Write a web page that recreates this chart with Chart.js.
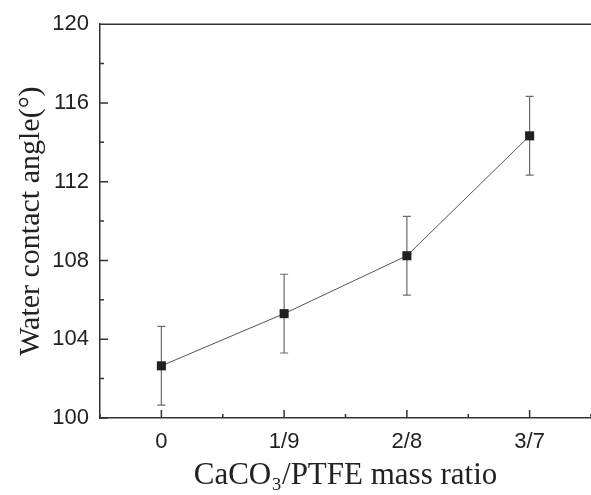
<!DOCTYPE html>
<html>
<head>
<meta charset="utf-8">
<script src="https://cdn.jsdelivr.net/npm/chart.js@4.4.1/dist/chart.umd.min.js"></script>
<style>
    html, body { margin: 0; padding: 0; background: #fff; overflow: hidden; }
    #wrap { width: 591px; height: 495px; }
</style>
</head>
<body>
<div id="wrap"><canvas id="grafico"></canvas></div>
<script>
const categorias = ["0", "1/9", "2/8", "3/7"];
const angulo = [102.65, 105.3, 108.24, 114.33];
const error = [2.0, 2.0, 2.0, 2.0];
const yTicks = [100, 104, 108, 112, 116, 120];

// error bars and inward ticks (Origin style)
const extras = {
    id: "extras",
    beforeDatasetsDraw(chart) {
        const ctx = chart.ctx;
        const x = chart.scales.x;
        const y = chart.scales.y;
        ctx.save();
        ctx.strokeStyle = "#6b6b6b";
        ctx.lineWidth = 1.2;
        for (let i = 0; i < angulo.length; i++) {
            const px = x.getPixelForValue(i);
            const top = y.getPixelForValue(angulo[i] + error[i]);
            const bot = y.getPixelForValue(angulo[i] - error[i]);
            ctx.beginPath();
            ctx.moveTo(px, top);
            ctx.lineTo(px, bot);
            ctx.moveTo(px - 4, top);
            ctx.lineTo(px + 4, top);
            ctx.moveTo(px - 4, bot);
            ctx.lineTo(px + 4, bot);
            ctx.stroke();
        }
        ctx.restore();
    },
    afterDraw(chart) {
        const ctx = chart.ctx;
        const area = chart.chartArea;
        const x = chart.scales.x;
        const y = chart.scales.y;
        ctx.save();
        ctx.strokeStyle = "#333";
        ctx.lineWidth = 1.5;
        ctx.beginPath();
        // top frame line
        ctx.moveTo(area.left, area.top);
        ctx.lineTo(area.right, area.top);
        // y ticks
        for (let v = 100; v <= 120; v += 2) {
            const py = y.getPixelForValue(v);
            const len = (v % 4 === 0) ? 8 : 4;
            ctx.moveTo(area.left, py);
            ctx.lineTo(area.left + len, py);
        }
        // x ticks
        for (let v = -0.5; v <= 3.5; v += 0.5) {
            const px = x.getPixelForValue(v);
            const len = (Number.isInteger(v)) ? 8 : 4;
            ctx.moveTo(px, area.bottom);
            ctx.lineTo(px, area.bottom - len);
        }
        ctx.stroke();
        ctx.restore();
    }
};

const ctx = document.getElementById("grafico").getContext("2d");
const myChart = new Chart(ctx, {
    type: "line",
    data: {
        datasets: [{
            data: angulo.map((v, i) => ({ x: i, y: v })),
            borderColor: "#555",
            borderWidth: 1,
            backgroundColor: "#231f20",
            pointStyle: "rect",
            pointRadius: 6.4,
            pointBorderWidth: 0,
            pointBackgroundColor: "#231f20",
            tension: 0,
            clip: false,
        }],
    },
    options: {
        responsive: true,
        maintainAspectRatio: false,
        animation: false,
        layout: {
            autoPadding: false,
            padding: { top: 23, right: 0, left: 0, bottom: 0 },
        },
        plugins: {
            legend: { display: false },
            tooltip: { enabled: false },
        },
        scales: {
            x: {
                type: "linear",
                min: -0.5,
                max: 3.5,
                grid: { display: false, drawTicks: false },
                border: { display: true, color: "#333", width: 1.5 },
                afterBuildTicks: (scale) => {
                    scale.ticks = categorias.map((c, i) => ({ value: i }));
                },
                afterFit: (scale) => {
                    scale.height = 77;
                    scale.paddingRight = 0;
                    scale.paddingLeft = 0;
                },
                ticks: {
                    padding: 11,
                    color: "#222",
                    font: { family: "Liberation Sans", size: 22 },
                    callback: (v) => categorias[v],
                },
                title: {
                    display: true,
                    text: "CaCO\u2083/PTFE mass ratio",
                    color: "#222",
                    font: { family: "Liberation Serif", size: 31 },
                    padding: { top: 0, bottom: 1 },
                },
            },
            y: {
                min: 100,
                max: 120,
                grid: { display: false, drawTicks: false },
                border: { display: true, color: "#333", width: 1.5 },
                afterBuildTicks: (scale) => {
                    scale.ticks = yTicks.map((v) => ({ value: v }));
                },
                afterFit: (scale) => { scale.width = 100; },
                ticks: {
                    padding: 11,
                    color: "#222",
                    font: { family: "Liberation Sans", size: 22 },
                },
                title: {
                    display: true,
                    text: "Water contact angle(\u00b0)",
                    color: "#222",
                    font: { family: "Liberation Serif", size: 30 },
                    padding: { top: 13, bottom: 0 },
                },
            },
        },
    },
    plugins: [extras],
});
</script>
</body>
</html>
